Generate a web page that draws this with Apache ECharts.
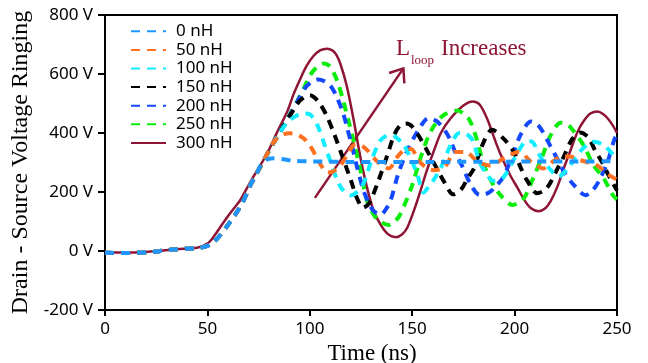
<!DOCTYPE html>
<html><head><meta charset="utf-8">
<script src="https://cdn.jsdelivr.net/npm/echarts@6/dist/echarts.min.js"></script>
<style>html,body{margin:0;padding:0;background:#fff}#c{width:648px;height:363px}</style>
</head><body><div id="c"></div>
<script>
const seriesNames = ['0 nH','50 nH','100 nH','150 nH','200 nH','250 nH','300 nH'];
const seriesColors = ['#1E96FF','#FF7020','#10EEFF','#000000','#1448FF','#0BEE0B','#8E1535'];
const xTicks = [0, 50, 100, 150, 200, 250];
const yTicks = [-200, 0, 200, 400, 600, 800];

// shared switching edge of the dashed traces [time ns, volts]
const dashedRise = [[0,-6],[8,-7],[16,-6],[22,-4],[27,0],[32,4],[40,8],[46,11],[50,17],[53,30],[56,52],[60,88],[63.5,122],[67.5,169],[71,223],[74,262]];

const nH0 = [[76,290],[78.5,308],[82,314],[86,312],[92,306],[100,304],[120,302],[160,302],[200,303],[250,304]];
const nH50 = [[77.3,304],[80,340],[83,375],[86.5,393],[90,399],[93,396],[97,382],[100,358],[103.5,316],[106,285],[108.5,266],[111,268],[115,290],[119,335],[122,360],[125,358],[128,342],[133,303],[138.5,280],[143.4,325],[147,345],[149.5,346],[153,308],[157,282],[160.5,274],[166,286],[171,336],[176,336],[182,302],[188,290],[194.6,314],[202,336],[208,303],[214,280],[219,305],[223,320],[227,320],[232,308],[237,298],[241,287],[245,262],[250,242]];
const nH100 = [[77.3,304],[80.7,348],[85.6,405],[89,435],[93,457],[97,466],[100,463],[103.6,428],[106.6,372],[110,305],[113.4,240],[116,208],[120,189],[123,200],[126.3,230],[130,305],[134.5,375],[138.5,392],[141.5,388],[146,358],[149.5,310],[152.6,257],[155.6,198],[158,218],[160.5,241],[164,282],[168.7,358],[173,400],[176,398],[179.5,375],[183,300],[186.8,257],[189.5,238],[194,246],[198,289],[202,340],[206,373],[209,368],[213,315],[217.6,275],[221.5,253],[226,280],[232,338],[238.6,370],[243.5,359],[248.4,324],[250,310]];
const nH150 = [[77.3,304],[80.7,348],[85.6,405],[90,455],[94,500],[97,520],[100,528],[104,508],[108,462],[112,395],[115,338],[118,280],[120,241],[123,180],[126,147],[129,162],[133.5,238],[138,328],[141,390],[144,425],[147,432],[150,422],[154,381],[158,331],[162,280],[166,230],[170,192],[174,210],[177,246],[180,278],[185,371],[189,411],[195,378],[200,331],[203,282],[206,240],[211,196],[215,208],[218,238],[221,280],[224,320],[228,378],[232,402],[236,385],[239,345],[243,297],[246,255],[250,205]];
const nH200 = [[77.3,304],[80.7,348],[85.6,405],[90,458],[94,508],[98,555],[101,574],[104,581],[107,576],[110,561],[113,525],[116.5,462],[118.5,410],[120.7,354],[122.5,300],[126.3,203],[129,160],[131,137],[134.5,123],[137,140],[139.5,172],[143,258],[147.5,338],[153,410],[158,450],[162,440],[166,408],[168.7,375],[171,335],[174.6,285],[178.5,226],[183,190],[187,196],[190,213],[194.6,252],[199,325],[203,395],[208,439],[211,430],[213.7,405],[217.6,354],[221,310],[224,270],[229,223],[234.7,189],[238,205],[241,235],[245.5,304],[248.4,372],[250,398]];
const nH250 = [[77.3,304],[80.7,348],[85.6,405],[90,460],[93.7,506],[97,550],[100,594],[103.5,624],[107,636],[109.5,628],[111.5,607],[114,565],[116.5,505],[119,439],[121,385],[124.7,275],[128,168],[131,125],[134,102],[138.4,88],[141,97],[144,122],[150,223],[154,314],[159,405],[165,459],[172,476],[177.5,449],[181,390],[185,292],[189,232],[193,190],[199,156],[204.5,179],[209,246],[213.7,324],[217.6,392],[222.5,435],[226,428],[229,405],[233.7,358],[238.6,290],[243.5,246],[248,189],[250,175]];
const nH300 = [[0,-4],[10,-5],[20,-3],[27,1],[35,6],[45,11],[50,25],[53,48],[56,78],[60,118],[63,145],[66,172],[70,222],[74,270],[79,328],[84,402],[89,473],[92,530],[95.4,584],[98.5,628],[101.7,660],[105,680],[108.4,686],[111,680],[113,665],[115,633],[118,561],[121.4,445],[124.7,318],[128,213],[131,140],[134.5,90],[138,58],[142,47],[145,56],[147.5,78],[151,140],[154,203],[157,270],[160.5,338],[164,400],[168.7,449],[175,493],[179.5,507],[183,496],[186.8,445],[191,365],[194.6,304],[198,255],[201.5,213],[205,170],[208,145],[211.7,135],[215,145],[217.6,169],[221,220],[224,280],[227.5,345],[230.8,405],[234,443],[237,466],[240.6,473],[243,465],[245.5,449],[248,425],[250,400]];

// annotation arrow in data coordinates
const arrowFrom = [102.5, 180];
const arrowTo = [145.7, 619];

const seriesData = [dashedRise.concat(nH0), dashedRise.concat(nH50), dashedRise.concat(nH100), dashedRise.concat(nH150), dashedRise.concat(nH200), dashedRise.concat(nH250), nH300];

const SANS = '"Noto Sans", "Open Sans", sans-serif';
const SERIF = '"Liberation Serif", "Times New Roman", serif';
const MAROON = '#8E1535';

const series = [];
for (let i = seriesNames.length - 1; i >= 0; i--) {
  const solid = i === 6;
  series.push({
    name: seriesNames[i], type: 'line', data: seriesData[i],
    symbol: 'none', smooth: 0.3, silent: true,
    lineStyle: { color: seriesColors[i], width: solid ? 2.5 : 4, type: solid ? 'solid' : [9, 7], cap: 'butt' },
    itemStyle: { color: seriesColors[i] },
    emphasis: { disabled: true }
  });
}

const chart = echarts.init(document.getElementById('c'), null, { renderer: 'canvas' });
chart.setOption({
  animation: false,
  backgroundColor: '#fff',
  grid: { left: 105, right: 31, top: 15, bottom: 53, containLabel: false, outerBoundsMode: 'none', show: true, borderColor: '#000', borderWidth: 2, backgroundColor: 'transparent' },
  legend: {
    orient: 'vertical', left: 130, top: 22, padding: 0,
    itemWidth: 35, itemHeight: 18.6, itemGap: 0,
    data: seriesNames,
    itemStyle: { opacity: 0 },
    textStyle: { fontFamily: SANS, fontSize: 17, color: '#000', lineHeight: 18.6, padding: [0, 0, 0, 5] }
  },
  xAxis: {
    type: 'value', min: xTicks[0], max: xTicks[xTicks.length - 1], interval: 50,
    name: 'Time (ns)', nameLocation: 'middle', nameGap: 28,
    nameTextStyle: { fontFamily: SERIF, fontSize: 23, color: '#000', padding: [0, 0, 0, 22] },
    axisLine: { show: true, onZero: false, lineStyle: { color: '#000', width: 2 } },
    axisTick: { show: true, length: 6, lineStyle: { color: '#000', width: 2 } },
    axisLabel: { fontFamily: SANS, fontSize: 17, color: '#000', margin: 11 },
    splitLine: { show: false }
  },
  yAxis: {
    type: 'value', min: yTicks[0], max: yTicks[yTicks.length - 1], interval: 200,
    name: 'Drain - Source Voltage Ringing', nameLocation: 'middle', nameGap: 62,
    nameTextStyle: { fontFamily: SERIF, fontSize: 24, color: '#000' },
    axisLine: { show: true, onZero: false, lineStyle: { color: '#000', width: 2 } },
    axisTick: { show: true, length: 7, lineStyle: { color: '#000', width: 2 } },
    axisLabel: { fontFamily: SANS, fontSize: 17, color: '#000', margin: 12, formatter: v => v + ' V' },
    splitLine: { show: false }
  },
  series: series
});

const a = chart.convertToPixel({ gridIndex: 0 }, arrowFrom);
const b = chart.convertToPixel({ gridIndex: 0 }, arrowTo);
const dx = b[0] - a[0], dy = b[1] - a[1];
const len = Math.hypot(dx, dy);
const ux = -dx / len, uy = -dy / len;
const ang = 38 * Math.PI / 180, hl = 15;
const rot = (x, y, t) => [x * Math.cos(t) - y * Math.sin(t), x * Math.sin(t) + y * Math.cos(t)];
const h1 = rot(ux, uy, ang), h2 = rot(ux, uy, -ang);
chart.setOption({
  graphic: [
    { type: 'polyline', silent: true, shape: { points: [a, b] }, style: { stroke: MAROON, lineWidth: 2.5, fill: null } },
    { type: 'polyline', silent: true, shape: { points: [[b[0] + h1[0] * hl, b[1] + h1[1] * hl], b, [b[0] + h2[0] * hl, b[1] + h2[1] * hl]] }, style: { stroke: MAROON, lineWidth: 2.5, fill: null } },
    { type: 'text', silent: true, x: 396, y: 49, style: { text: 'L', fill: MAROON, fontFamily: SERIF, fontSize: 23, verticalAlign: 'middle', align: 'left' } },
    { type: 'text', silent: true, x: 411, y: 61, style: { text: 'loop', fill: MAROON, fontFamily: SERIF, fontSize: 13, verticalAlign: 'middle', align: 'left' } },
    { type: 'text', silent: true, x: 441, y: 49, style: { text: 'Increases', fill: MAROON, fontFamily: SERIF, fontSize: 23, verticalAlign: 'middle', align: 'left' } }
  ]
});
</script></body></html>
